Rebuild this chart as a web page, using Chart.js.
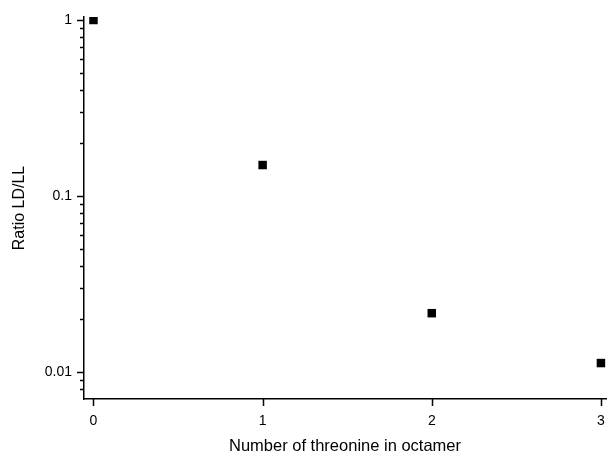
<!DOCTYPE html>
<html>
<head>
<meta charset="utf-8">
<script src="https://cdn.jsdelivr.net/npm/chart.js@4.4.1/dist/chart.umd.min.js"></script>
<style>
html,body{margin:0;padding:0;background:#fff;}
#wrap{width:612px;height:456px;position:relative;}
</style>
</head>
<body>
<div id="wrap"><canvas id="c" width="612" height="456"></canvas></div>
<script>
const categories = [0, 1, 2, 3];
const ratioLDLL = [1.0, 0.150, 0.0216, 0.01125];
const xTickValues = [0, 1, 2, 3];
const yMajorTicks = [0.01, 0.1, 1];

const FONT = "'Liberation Sans', Arial, sans-serif";

const tickPlugin = {
  id: 'ticks',
  afterDraw(chart) {
    const ctx = chart.ctx;
    const xs = chart.scales.x, ys = chart.scales.y;
    const ca = chart.chartArea;
    ctx.save();
    ctx.strokeStyle = '#000';
    ctx.lineWidth = 1.5;
    ctx.beginPath();
    for (const v of xTickValues) {
      const px = Math.round(xs.getPixelForValue(v)) + 0.5;
      ctx.moveTo(px, ca.bottom);
      ctx.lineTo(px, ca.bottom + 7);
    }
    const lo = Math.floor(Math.log10(ys.min)), hi = Math.ceil(Math.log10(ys.max));
    for (let e = lo; e <= hi; e++) {
      for (let m = 1; m <= 9; m++) {
        const v = m * Math.pow(10, e);
        if (v < ys.min || v > ys.max) continue;
        const py = Math.round(ys.getPixelForValue(v)) + 0.5;
        const len = m === 1 ? 7 : 4;
        ctx.moveTo(ca.left, py);
        ctx.lineTo(ca.left - len, py);
      }
    }
    ctx.stroke();
    ctx.restore();
  }
};

new Chart(document.getElementById('c'), {
  type: 'scatter',
  data: {
    datasets: [{
      data: categories.map((x, i) => ({x: x, y: ratioLDLL[i]})),
      pointStyle: 'rect',
      pointRadius: 6,
      backgroundColor: '#000',
      borderColor: '#000',
      borderWidth: 0
    }]
  },
  options: {
    responsive: false,
    animation: false,
    layout: {padding: {top: 17, right: 2, left: 10, bottom: 0}},
    plugins: {legend: {display: false}, tooltip: {enabled: false}},
    scales: {
      x: {
        type: 'linear',
        min: -0.056, max: 3.03,
        afterBuildTicks(s) { s.ticks = xTickValues.map(v => ({value: v})); },
        afterFit(s) { s.height = 57; s.paddingLeft = 0; s.paddingRight = 0; },
        grid: {display: true, drawOnChartArea: false, drawTicks: false},
        border: {display: true, color: '#000', width: 1.5},
        ticks: {color: '#000', font: {family: FONT, size: 14}, padding: 14, maxRotation: 0},
        title: {display: true, text: 'Number of threonine in octamer', color: '#000',
                font: {family: FONT, size: 16.5}, padding: {top: 3, bottom: 0}}
      },
      y: {
        type: 'logarithmic',
        min: 0.00703, max: 1.04,
        afterBuildTicks(s) { s.ticks = yMajorTicks.map(v => ({value: v})); },
        afterFit(s) { s.width = 74; s.paddingTop = 0; s.paddingBottom = 0; },
        grid: {display: true, drawOnChartArea: false, drawTicks: false},
        border: {display: true, color: '#000', width: 1.5},
        ticks: {color: '#000', font: {family: FONT, size: 14}, padding: 12,
                callback: v => String(v)},
        title: {display: true, text: 'Ratio LD/LL', color: '#000',
                font: {family: FONT, size: 16}, padding: {top: 0, bottom: 0}}
      }
    }
  },
  plugins: [tickPlugin]
});
</script>
</body>
</html>
